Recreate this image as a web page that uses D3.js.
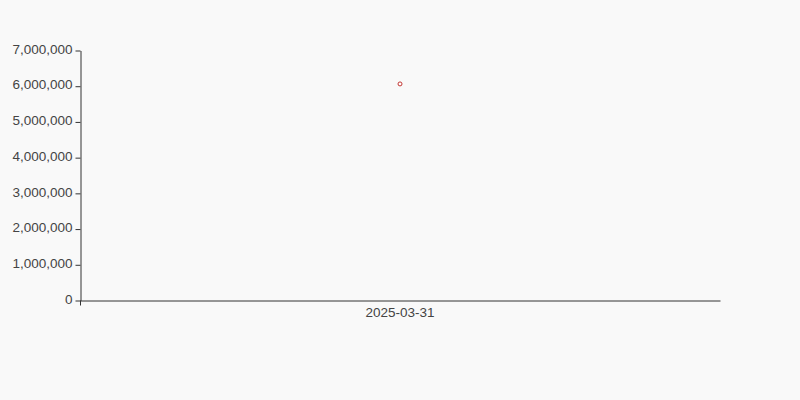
<!DOCTYPE html>
<html>
<head>
<meta charset="utf-8">
<script src="https://cdn.jsdelivr.net/npm/d3@7"></script>
<style>
  html, body { margin: 0; padding: 0; background: #f9f9f9; }
  svg { display: block; font-family: "Liberation Sans", Arial, sans-serif; }
</style>
</head>
<body>
<svg id="chart" width="800" height="400"></svg>
<script>
// one category, one value
var dates = ["2025-03-31"];
var values = [6050000];
var yTicks = [0, 1000000, 2000000, 3000000, 4000000, 5000000, 6000000, 7000000];

var width = 800;
var height = 400;
var plotLeft = 80, plotRight = 720, plotTop = 50, plotBottom = 300;

var svg = d3.select("#chart")
    .attr("width", width)
    .attr("height", height);

svg.append("rect")
    .attr("width", width)
    .attr("height", height)
    .attr("fill", "#f9f9f9");

var x = d3.scaleBand()
    .domain(dates)
    .range([plotLeft, plotRight]);

var y = d3.scaleLinear()
    .domain([0, 7000000])
    .range([plotBottom, plotTop]);

var fmt = d3.format(",");

var yAxis = d3.axisLeft(y)
    .tickValues(yTicks)
    .tickFormat(fmt)
    .tickSizeInner(5)
    .tickSizeOuter(0)
    .tickPadding(3);

var gy = svg.append("g")
    .attr("transform", "translate(" + (plotLeft + 0.5) + ",0.5)")
    .call(yAxis);

// labels sit a touch above their ticks in the reference
gy.selectAll(".tick text").attr("dy", "0.2em");

var xAxis = d3.axisBottom(x)
    .tickSize(0)
    .tickPadding(7);

var gx = svg.append("g")
    .attr("transform", "translate(0," + (plotBottom + 0.5) + ")")
    .call(xAxis);

// tick at the left band edge, like the reference
gx.append("line")
    .attr("x1", plotLeft + 0.5)
    .attr("x2", plotLeft + 0.5)
    .attr("y1", 0)
    .attr("y2", 5)
    .attr("stroke", "#333");

svg.selectAll(".domain").attr("stroke", "#333");
svg.selectAll(".tick line").attr("stroke", "#333");
svg.selectAll(".tick text")
    .attr("fill", "#444")
    .style("font-size", "13.5px")
    .style("font-family", "\"Liberation Sans\", Arial, sans-serif");

svg.append("g")
    .selectAll("circle")
    .data(values)
    .enter()
    .append("circle")
    .attr("cx", function(d, i) { return x(dates[i]) + x.bandwidth() / 2; })
    .attr("cy", function(d) { return y(d); })
    .attr("r", 2)
    .attr("fill", "#fff")
    .attr("stroke", "#c23531")
    .attr("stroke-width", 1);
</script>
</body>
</html>
